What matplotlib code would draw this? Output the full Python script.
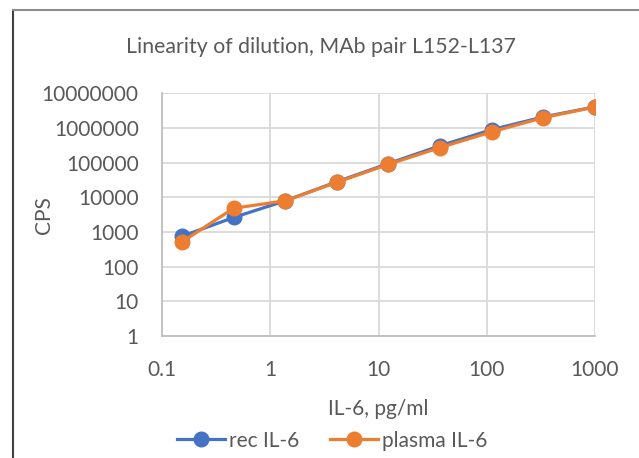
import matplotlib
matplotlib.use('Agg')
import matplotlib.pyplot as plt
from matplotlib.lines import Line2D
from matplotlib.ticker import FixedLocator, FuncFormatter, NullLocator

# IL-6 concentrations, 3-fold dilution series (pg/ml)
CONC = [0.152, 0.457, 1.37, 4.12, 12.3, 37.0, 111.0, 333.0, 1000.0]

REC_IL6 = [760, 2650, 8000, 28500, 95000, 310000, 900000, 2100000, 4100000]
PLASMA_IL6 = [525, 4900, 8000, 27500, 90000, 275000, 780000, 2000000, 4050000]

X_TICKS = [0.1, 1, 10, 100, 1000]
Y_TICKS = [1, 10, 100, 1000, 10000, 100000, 1000000, 10000000]

TITLE = 'Linearity of dilution, MAb pair L152-L137'
X_LABEL = 'IL-6, pg/ml'
Y_LABEL = 'CPS'

BLUE = '#4472C4'
ORANGE = '#ED7D31'
TEXT_COLOR = '#595959'
GRID_COLOR = '#D9D9D9'
FS = 15

plt.rcParams['font.family'] = ['Lato', 'DejaVu Sans']

fig = plt.figure(figsize=(6.39, 4.58), dpi=100)
ax = fig.add_axes([0.254, 0.266, 0.677, 0.530])

ax.plot(CONC, REC_IL6, color=BLUE, lw=2.3, marker='o', ms=10.5,
        label='rec IL-6', zorder=3)
ax.plot(CONC, PLASMA_IL6, color=ORANGE, lw=2.3, marker='o', ms=10.5,
        label='plasma IL-6', zorder=4)

ax.set_xscale('log')
ax.set_yscale('log')
ax.set_xlim(0.1, 1000)
ax.set_ylim(1, 10000000)

ax.xaxis.set_major_locator(FixedLocator(X_TICKS))
ax.yaxis.set_major_locator(FixedLocator(Y_TICKS))
ax.xaxis.set_minor_locator(NullLocator())
ax.yaxis.set_minor_locator(NullLocator())
ax.xaxis.set_major_formatter(FuncFormatter(lambda v, p: f'{v:g}'))
ax.yaxis.set_major_formatter(FuncFormatter(lambda v, p: f'{int(round(v))}'))

ax.tick_params(length=0, labelsize=FS, labelcolor=TEXT_COLOR)
ax.tick_params(axis='x', pad=17)
ax.tick_params(axis='y', pad=17)

ax.grid(True, color=GRID_COLOR, lw=1.3)
ax.set_axisbelow(True)
for side in ['top', 'right']:
    ax.spines[side].set_visible(False)
for side in ['left', 'bottom']:
    ax.spines[side].set_color('#BFBFBF')
    ax.spines[side].set_linewidth(1.3)

ax.set_xlabel(X_LABEL, fontsize=FS, color=TEXT_COLOR, labelpad=14)
ax.set_ylabel(Y_LABEL, fontsize=FS, color=TEXT_COLOR)
ax.yaxis.set_label_coords(-0.250, 0.5)

fig.text(0.503, 0.898, TITLE, ha='center', va='center', fontsize=15.3,
         color=TEXT_COLOR)

fig.legend(loc='center', bbox_to_anchor=(0.52, 0.038), ncol=2, frameon=False,
           fontsize=FS, labelcolor=TEXT_COLOR, handlelength=2.3,
           handletextpad=0.2, columnspacing=1.5)

# chart frame (left and top edges visible)
fig.add_artist(Line2D([0.021, 0.021], [0.0, 0.978], color='#404040', lw=1.5))
fig.add_artist(Line2D([0.021, 1.0], [0.978, 0.978], color='#8C8C8C', lw=1.5))

fig.savefig('out.png', dpi=100)
